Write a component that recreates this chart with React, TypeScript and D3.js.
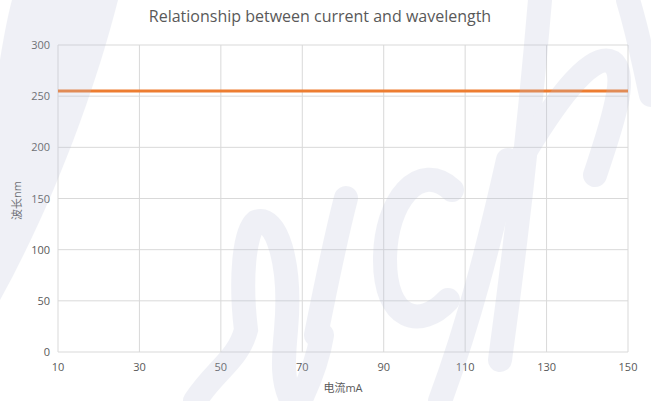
import React from "react";
import * as d3 from "d3";

const currents = [10, 30, 50, 70, 90, 110, 130, 150];
const wavelengths = [255, 255, 255, 255, 255, 255, 255, 255];
const xTicks = [10, 30, 50, 70, 90, 110, 130, 150];
const yTicks = [0, 50, 100, 150, 200, 250, 300];

const W = 651, H = 401;
const M = { left: 58, right: 23, top: 45, bottom: 49 };

const watermarkStrokes = [
  "M195,401 C215,370 238,360 246,330 C240,280 244,232 256,222 C276,214 292,262 286,330 C283,362 282,382 292,401",
  "M316,335 C325,290 335,240 346,198",
  "M300,401 C310,380 318,360 322,335",
  "M452,190 C420,160 385,200 385,260 C385,320 420,330 448,300",
  "M508,160 C490,240 470,320 440,401",
  "M540,0 C530,120 515,250 500,360",
  "M520,160 C550,110 590,50 612,62 C630,75 610,130 595,175",
  "M628,0 C640,40 645,70 651,95",
];

export default function App() {
  const x = d3.scaleLinear().domain([10, 150]).range([M.left, W - M.right]);
  const y = d3.scaleLinear().domain([0, 300]).range([H - M.bottom, M.top]);
  const line = d3.line<number>().x((_, i) => x(currents[i])).y((d) => y(d));
  const font = "'Open Sans', 'Noto Sans CJK SC', sans-serif";
  return (
    <svg width={W} height={H} style={{ position: "absolute", left: 0, top: 0, background: "#fff" }}>
      <rect width={W} height={H} fill="#fff" />
      <text x={320} y={22} textAnchor="middle" fontSize={16} fill="#595959" fontFamily={font}>
        Relationship between current and wavelength
      </text>
      {yTicks.map((t) => (
        <g key={"y" + t}>
          <line x1={M.left} x2={W - M.right} y1={y(t)} y2={y(t)} stroke="#d9d9d9" strokeWidth={1} />
          <text x={50} y={y(t) + 4} textAnchor="end" fontSize={11} fill="#595959" fontFamily={font}>{t}</text>
        </g>
      ))}
      {xTicks.map((t) => (
        <g key={"x" + t}>
          <line x1={x(t)} x2={x(t)} y1={M.top} y2={H - M.bottom} stroke="#d9d9d9" strokeWidth={1} />
          <text x={x(t)} y={H - M.bottom + 19} textAnchor="middle" fontSize={11} fill="#595959" fontFamily={font}>{t}</text>
        </g>
      ))}
      <path d={line(wavelengths) || ""} fill="none" stroke="#ED7D31" strokeWidth={3} />
      <text x={343} y={392} textAnchor="middle" fontSize={11} fill="#595959" fontFamily={font}>电流mA</text>
      <text transform={`translate(21,${(M.top + H - M.bottom) / 2 + 2}) rotate(-90)`} textAnchor="middle" fontSize={11} fill="#595959" fontFamily={font}>波长nm</text>
      <g opacity={0.22} pointerEvents="none">
        <path d="M12,0 L118,0 C95,90 55,200 0,300 L0,60 C4,35 8,15 12,0 Z" fill="#b8bfd8" />
        {watermarkStrokes.map((d, i) => (
          <path key={i} d={d} fill="none" stroke="#b8bfd8" strokeWidth={24} strokeLinecap="round" />
        ))}
      </g>
    </svg>
  );
}
